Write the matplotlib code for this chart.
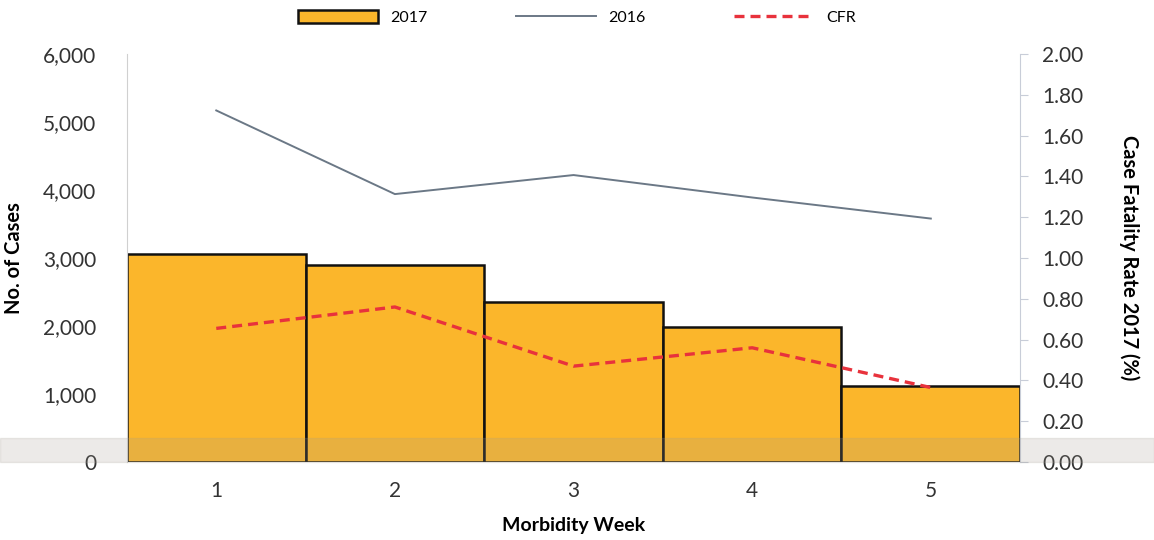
import matplotlib.pyplot as plt
from matplotlib.patches import Rectangle
from matplotlib.ticker import FuncFormatter

plt.rcParams['font.family'] = ['Lato', 'DejaVu Sans']

# datos
weeks = [1, 2, 3, 4, 5]
cases_2017 = [3060, 2900, 2350, 1985, 1120]
cases_2016 = [5170, 3940, 4220, 3890, 3580]
cfr_2017 = [0.655, 0.76, 0.47, 0.56, 0.365]

fig = plt.figure(figsize=(11.54, 5.40), dpi=100)
ax = fig.add_axes([0.110, 0.1444, 0.774, 0.7556])
ax2 = ax.twinx()

barras = ax.bar(weeks, cases_2017, width=1.0, color='#fbb62b',
                edgecolor='#111111', linewidth=1.8, label='2017', zorder=2)
linea, = ax.plot(weeks, cases_2016, color='#6b7886', linewidth=1.4,
                 label='2016', zorder=3)
cfr, = ax2.plot(weeks, cfr_2017, color='#e8323c', linewidth=2.4,
                linestyle=(0, (3, 1.8)), label='CFR', zorder=4)

ax.set_xlim(0.5, 5.5)
ax.set_ylim(0, 6000)
ax2.set_ylim(0, 2.0)
ax.set_yticks(range(0, 6001, 1000))
ax2.set_yticks([i * 0.2 for i in range(11)])
ax.yaxis.set_major_formatter(FuncFormatter(lambda v, p: f"{int(v):,}"))
ax2.yaxis.set_major_formatter(FuncFormatter(lambda v, p: f"{v:.2f}"))
ax.set_xticks(weeks)

for s in ['top', 'right', 'bottom']:
    ax.spines[s].set_visible(False)
for s in ['top', 'left', 'bottom']:
    ax2.spines[s].set_visible(False)
ax.spines['left'].set_color('#d0d0d0')
ax.spines['left'].set_linewidth(0.8)
ax2.spines['right'].set_color('#c8cdd8')
ax2.spines['right'].set_linewidth(0.8)

ax.tick_params(axis='y', length=0, pad=22, labelsize=15, labelcolor='#333333')
ax.tick_params(axis='x', length=0, pad=14, labelsize=15, labelcolor='#333333')
ax2.tick_params(axis='y', length=6, color='#c8cdd8', pad=10, labelsize=15,
                labelcolor='#333333')

ax.set_xlabel("Morbidity Week", fontsize=14, fontweight='bold', labelpad=11)
ax.set_ylabel("No. of Cases", fontsize=14.5, fontweight='bold', labelpad=14)
ax2.set_ylabel("Case Fatality Rate 2017 (%)", fontsize=14.5, fontweight='bold',
               rotation=270, labelpad=40)

fig.legend(handles=[barras, linea, cfr], loc='center', ncol=3,
           bbox_to_anchor=(0.5, 0.968), frameon=False, fontsize=11.5,
           columnspacing=5.5, handlelength=5, handleheight=0.9)

# banda gris del escaneo
fig.patches.append(Rectangle((0, 0.1444), 1, 0.044, transform=fig.transFigure,
                             color='#a09a90', alpha=0.2, zorder=10))

plt.savefig('out.png')
